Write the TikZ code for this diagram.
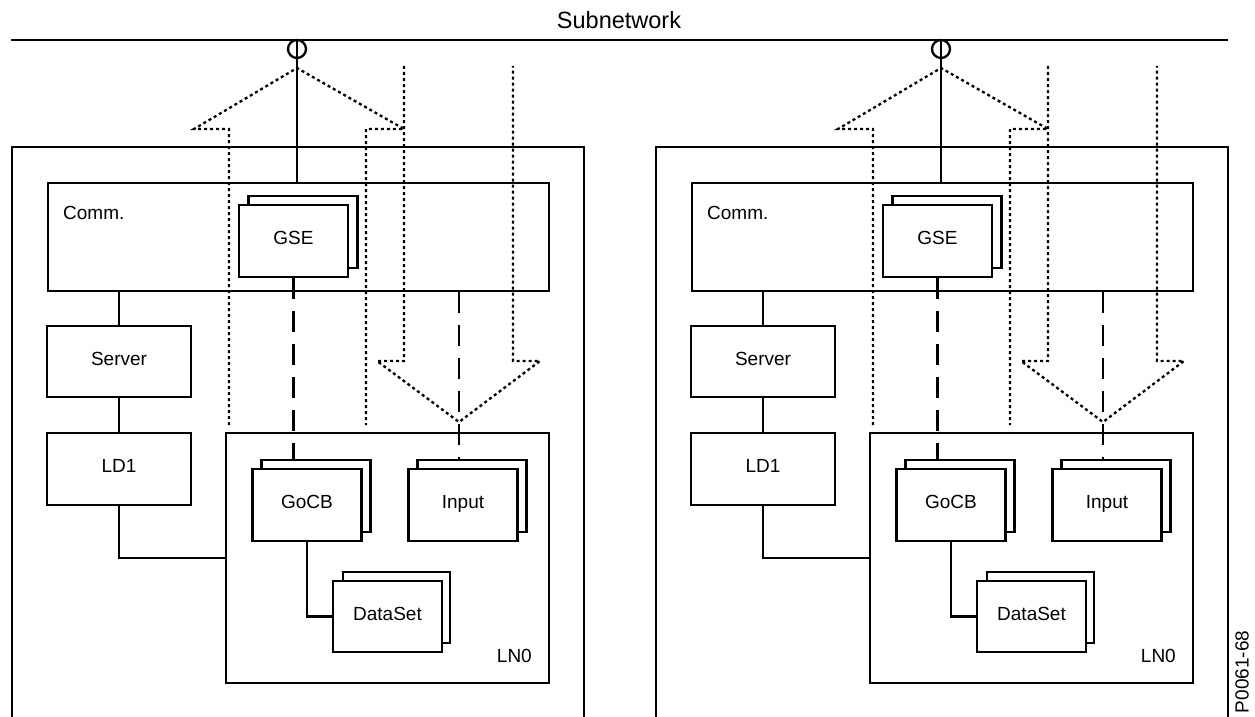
\documentclass[tikz,border=0pt]{standalone}
\usepackage{fontspec}
\setmainfont{Liberation Sans}
\tikzset{
  lw/.style={line width=2.3pt},
  box/.style={draw, lw, fill=white, inner sep=0pt, font=\fontsize{19}{21}\selectfont,
    text height=0.72em, text depth=0pt},
  stackbox/.style={box, minimum width=109pt, minimum height=72pt},
  solidline/.style={lw},
  dotline/.style={lw, dash pattern=on 3pt off 3pt},
  dashline/.style={lw, dash pattern=on 21pt off 12pt},
  lbl/.style={inner sep=0pt, font=\fontsize{19}{21}\selectfont},
}
\newcommand\drawpanel[2]{%
\begin{scope}[shift={(#2,0)}]
  % outer box (open at the bottom)
  \draw[lw] (12,725) -- (12,147) -- (584,147) -- (584,725);
  % network access point
  \node[draw, lw, circle, minimum size=18pt, inner sep=0pt] (#1ap) at (297,49) {};
  % Comm box
  \node[box, minimum width=501pt, minimum height=108pt, fill=none] (#1comm) at (298.5,237) {};
  \node[lbl, anchor=west] (#1commlbl) at (63,213) {Comm.};
  % GSE stack
  \node[stackbox] (#1gseB) at (303,232) {};
  \node[stackbox] (#1gseF) at (293.5,241) {GSE};
  % Server / LD1
  \node[box, minimum width=144pt, minimum height=71pt] (#1server) at (119,361.5) {Server};
  \node[box, minimum width=144pt, minimum height=72pt] (#1ld) at (119,469) {LD1};
  % LN0
  \node[box, minimum width=323pt, minimum height=250pt, fill=none] (#1ln) at (387.5,558) {};
  \node[lbl, anchor=east] (#1lnlbl) at (532,656) {LN0};
  % GoCB, Input, DataSet stacks
  \node[stackbox] (#1gocbB) at (316,496) {};
  \node[stackbox] (#1gocbF) at (307,505) {GoCB};
  \node[stackbox] (#1inB) at (472,496) {};
  \node[stackbox] (#1inF) at (463,505) {Input};
  \node[stackbox, minimum width=107pt, minimum height=71pt] (#1dsB) at (396.5,607.5) {};
  \node[stackbox, minimum width=109pt, minimum height=71pt] (#1dsF) at (387.5,616.5) {DataSet};
  % solid connectors
  \draw[solidline] (#1ap.north) -- (#1ap.north |- #1comm.north);
  \draw[solidline] (#1server.north) -- (#1server.north |- #1comm.south);
  \draw[solidline] (#1server.south) -- (#1ld.north);
  \draw[solidline] (#1ld.south) |- (#1ln.west);
  \draw[solidline] (#1gocbF.south) |- (#1dsF.west);
  % dashed connectors
  \draw[dashline] (#1gseF.south) -- (#1gseF.south |- #1gocbB.north);
  \draw[dashline] (#1comm.south -| 459,0) -- (#1gocbB.north -| 459,0);
  % dotted arrows
  \draw[dotline] (229,425) -- (229,129) -- (194,129) -- (297,68) -- (404,129) -- (366,129) -- (366,425);
  \draw[dotline] (404,66) -- (404,361) -- (377,361) -- (459,422) -- (540,361) -- (513,361) -- (513,66);
\end{scope}}
\begin{document}
\begin{tikzpicture}[x=1pt, y=-1pt]
  \clip (0,0) rectangle (1255,717);
  \fill[white] (0,0) rectangle (1255,717);
  \node[inner sep=0pt, anchor=base, font=\fontsize{23.5}{25}\selectfont] (subnet) at (619,29) {Subnetwork};
  \coordinate (netL) at (11,40);
  \coordinate (netR) at (1228,40);
  \draw[lw] (netL) -- (netR);
  \drawpanel{L}{0}
  \drawpanel{R}{644}
  \node[inner sep=0pt, rotate=90, font=\fontsize{19}{21}\selectfont] (code) at (1242,672) {P0061-68};
\end{tikzpicture}
\end{document}
